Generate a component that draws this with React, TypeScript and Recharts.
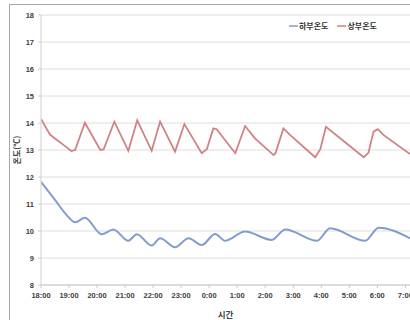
import React from "react";
import { LineChart, Line, XAxis, YAxis, CartesianGrid, Legend } from "recharts";

const hourLabels = ["18:00", "19:00", "20:00", "21:00", "22:00", "23:00", "0:00", "1:00", "2:00", "3:00", "4:00", "5:00", "6:00", "7:00"];
const yTicks = [8, 9, 10, 11, 12, 13, 14, 15, 16, 17, 18];
const seriesNames = ["하부온도", "상부온도"];

const upperTimes = ["18:00", "18:19", "18:34", "18:48", "19:05", "19:13", "19:34", "20:07", "20:14", "20:37", "21:07", "21:26", "21:57", "22:15", "22:47", "23:07", "23:44", "23:55", "0:09", "0:16", "0:56", "1:17", "1:38", "2:18", "2:22", "2:39", "2:53", "3:47", "3:58", "4:10", "5:31", "5:41", "5:52", "6:01", "6:13", "7:10"];
const upperValues = [14.15, 13.58, 13.37, 13.19, 12.96, 13.0, 14.01, 13.0, 13.02, 14.05, 12.97, 14.1, 12.97, 14.05, 12.94, 13.96, 12.88, 13.03, 13.8, 13.77, 12.88, 13.89, 13.43, 12.81, 12.88, 13.8, 13.56, 12.73, 13.03, 13.86, 12.73, 12.9, 13.68, 13.77, 13.56, 12.85];

const lowerTimes = ["18:00", "18:30", "18:55", "19:13", "19:34", "20:10", "20:35", "21:07", "21:25", "21:57", "22:15", "22:47", "23:16", "23:44", "0:13", "0:34", "1:17", "2:14", "2:43", "3:51", "4:19", "5:34", "6:03", "7:10"];
const lowerValues = [11.82, 11.15, 10.59, 10.32, 10.49, 9.88, 10.06, 9.64, 9.88, 9.46, 9.73, 9.4, 9.73, 9.48, 9.89, 9.64, 9.98, 9.67, 10.06, 9.64, 10.1, 9.64, 10.12, 9.73];

const toHours = (s: string) => {
  const [h, m] = s.split(":").map(Number);
  const hh = h >= 18 ? h - 18 : h + 6;
  return hh + m / 60;
};

const upperData = upperTimes.map((t, i) => ({ t: toHours(t), v: upperValues[i] }));
const lowerData = lowerTimes.map((t, i) => ({ t: toHours(t), v: lowerValues[i] }));
const xEnd = toHours(upperTimes[upperTimes.length - 1]);
const xTicks = hourLabels.map((_, i) => i);

const BLUE = "#7f9dd0";
const RED = "#d08285";
const FONT = "'Liberation Sans', 'Noto Sans CJK KR', sans-serif";
const KFONT = "'Noto Sans CJK KR', sans-serif";

const LegendContent = (props: any) => {
  const payload = [...(props.payload || [])].sort(
    (a: any, b: any) => seriesNames.indexOf(a.value) - seriesNames.indexOf(b.value)
  );
  return (
    <div style={{ display: "flex", alignItems: "center", fontFamily: KFONT, fontSize: 8, fontWeight: 700, color: "#333" }}>
      {payload.map((p: any, i: number) => (
        <div key={i} style={{ display: "flex", alignItems: "center", marginRight: 9 }}>
          <svg width={9} height={4} style={{ marginRight: 1 }}>
            <line x1={0} y1={2} x2={9} y2={2} stroke={p.color} strokeWidth={1.5} />
          </svg>
          <span>{p.value}</span>
        </div>
      ))}
    </div>
  );
};

export default function App() {
  return (
    <div style={{ position: "absolute", left: 9, top: 4, width: 401, height: 316, overflow: "hidden", borderTop: "1px solid #a8a8a8", borderLeft: "1px solid #a8a8a8", background: "#fff" }}>
      <LineChart width={440} height={330} margin={{ top: 10, right: 40, bottom: 20, left: 0 }}>
        <CartesianGrid vertical={false} stroke="#dedede" strokeWidth={1} />
        <XAxis
          type="number"
          dataKey="t"
          domain={[0, xEnd]}
          ticks={xTicks}
          interval={0}
          allowDataOverflow
          tickFormatter={(v: number) => hourLabels[v]}
          tick={{ fontSize: 7.5, fontWeight: 700, fill: "#404040", fontFamily: FONT }}
          tickSize={3}
          tickMargin={5}
          stroke="#c8c8c8"
          height={30}
          label={{ value: "시간", position: "insideBottom", offset: -3, style: { fontSize: 8.5, fontWeight: 700, fill: "#404040", fontFamily: KFONT } }}
        />
        <YAxis
          type="number"
          domain={[8, 18]}
          ticks={yTicks}
          interval={0}
          width={31}
          tick={{ fontSize: 7.5, fontWeight: 700, fill: "#404040", fontFamily: FONT }}
          tickSize={3}
          tickMargin={4}
          stroke="#d0d0d0"
          label={{ value: "온도(℃)", angle: -90, position: "insideLeft", offset: 7, style: { textAnchor: "middle", fontSize: 8, fontWeight: 700, fill: "#404040", fontFamily: KFONT } }}
        />
        <Legend
          layout="horizontal"
          verticalAlign="middle"
          align="center"
          content={<LegendContent />}
          wrapperStyle={{ top: 15, left: 279, width: "auto", height: "auto" }}
        />
        <Line data={lowerData} dataKey="v" name={seriesNames[0]} type="monotone" stroke={BLUE} strokeWidth={2} dot={false} isAnimationActive={false} />
        <Line data={upperData} dataKey="v" name={seriesNames[1]} type="linear" stroke={RED} strokeWidth={1.8} dot={false} isAnimationActive={false} />
      </LineChart>
    </div>
  );
}
